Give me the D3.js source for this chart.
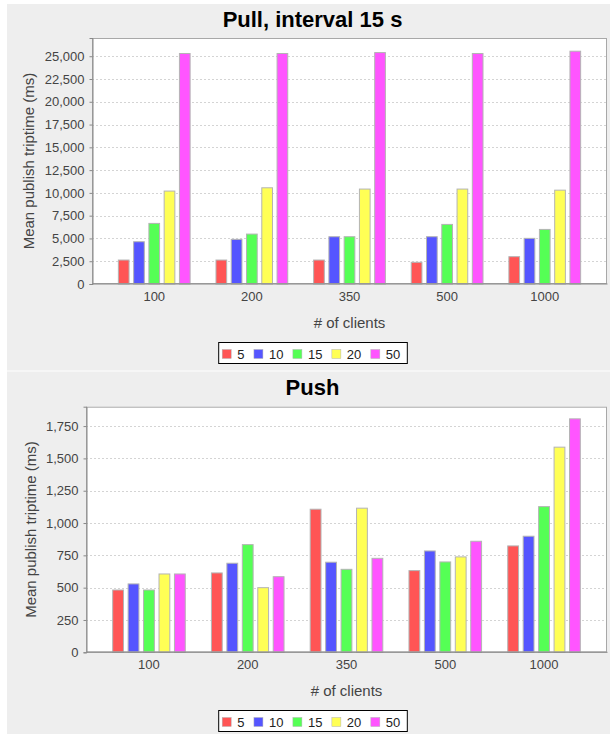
<!DOCTYPE html>
<html>
<head>
<meta charset="utf-8">
<script src="https://cdn.jsdelivr.net/npm/d3@7"></script>
<style>
  html, body { margin: 0; padding: 0; background: #ffffff; }
  svg { display: block; font-family: "Liberation Sans", Arial, sans-serif; }
</style>
</head>
<body>
<svg id="chart" width="610" height="734"></svg>
<script>
// ---------- data ----------
const categories = ["100", "200", "350", "500", "1000"];
const seriesNames = ["5", "10", "15", "20", "50"];
const seriesColors = ["#FF5555", "#5555FF", "#55FF55", "#FFFF55", "#FF55FF"];

// Pull, interval 15 s  (values per series, across categories)
const pull5  = [2630, 2630, 2630, 2380, 3000];
const pull10 = [4640, 4900, 5190, 5190, 5010];
const pull15 = [6650, 5480, 5190, 6540, 5990];
const pull20 = [10200, 10560, 10420, 10420, 10300];
const pull50 = [25300, 25300, 25400, 25300, 25550];
const pullTicks = [0, 2500, 5000, 7500, 10000, 12500, 15000, 17500, 20000, 22500, 25000];

// Push
const push5  = [482, 614, 1107, 632, 823];
const push10 = [529, 689, 697, 784, 898];
const push15 = [482, 833, 642, 699, 1127];
const push20 = [606, 500, 1115, 738, 1587];
const push50 = [606, 585, 727, 859, 1806];
const pushTicks = [0, 250, 500, 750, 1000, 1250, 1500, 1750];

const svg = d3.select("#chart");

function drawChart(cfg) {
  const g = svg.append("g").attr("transform", `translate(0,${cfg.offsetY})`);
  // panel background
  g.append("rect").attr("x", 7).attr("y", cfg.panelTop).attr("width", 603).attr("height", cfg.panelHeight)
    .attr("fill", "#EEEEEE");

  const p = cfg.plot;
  // title
  g.append("text").attr("x", 312.5).attr("y", 27.3).attr("text-anchor", "middle")
    .attr("font-size", "22px").attr("font-weight", "bold").attr("fill", "#000")
    .text(cfg.title);

  // plot background
  g.append("rect").attr("x", p.left).attr("y", p.top).attr("width", p.right - p.left).attr("height", p.bottom - p.top)
    .attr("fill", "#ffffff");

  const y = d3.scaleLinear().domain([0, cfg.yMax]).range([p.bottom, p.top]);
  const x0 = d3.scaleBand().domain(categories).range([p.left, p.right]).paddingInner(0.265).paddingOuter(0.27);
  const x1 = d3.scaleBand().domain(seriesNames).range([0, x0.bandwidth()]).paddingInner(0.3).paddingOuter(0);

  // gridlines
  g.append("g").selectAll("line").data(cfg.ticks.filter(t => t > 0)).join("line")
    .attr("x1", p.left).attr("x2", p.right)
    .attr("y1", d => Math.round(y(d)) + 0.5).attr("y2", d => Math.round(y(d)) + 0.5)
    .attr("stroke", "#D4D4D4").attr("stroke-width", 1).attr("stroke-dasharray", "2,2");

  // bars
  const rows = [];
  cfg.series.forEach((vals, si) => {
    vals.forEach((v, ci) => rows.push({ cat: categories[ci], s: seriesNames[si], si: si, v: v }));
  });
  g.append("g").selectAll("rect").data(rows).join("rect")
    .attr("x", d => x0(d.cat) + x1(d.s))
    .attr("y", d => y(d.v))
    .attr("width", x1.bandwidth())
    .attr("height", d => y(0) - y(d.v))
    .attr("fill", d => seriesColors[d.si])
    .attr("stroke", "#B4B4B4").attr("stroke-width", 1);

  // plot outline
  g.append("rect").attr("x", p.left + 0.5).attr("y", p.top + 0.5)
    .attr("width", p.right - p.left - 1).attr("height", p.bottom - p.top - 1)
    .attr("fill", "none").attr("stroke", "#A8A8A8").attr("stroke-width", 1);

  // y axis
  const yAxis = d3.axisLeft(y).tickValues(cfg.ticks).tickFormat(d3.format(",")).tickSize(3).tickPadding(5);
  const ya = g.append("g").attr("transform", `translate(${p.left + 0.5},0)`).call(yAxis);
  ya.select(".domain").attr("stroke", "#888");
  ya.selectAll(".tick line").attr("stroke", "#888");
  ya.selectAll(".tick text").attr("font-size", "13px").attr("fill", "#444")
    .attr("font-family", '"Liberation Sans", Arial, sans-serif');

  // x axis
  const xAxis = d3.axisBottom(x0).tickSize(0).tickPadding(0);
  const xa = g.append("g").attr("transform", `translate(0,${p.bottom - 0.5})`).call(xAxis);
  xa.select(".domain").attr("stroke", "#888");
  xa.selectAll(".tick text").attr("font-size", "13px").attr("fill", "#444")
    .attr("font-family", '"Liberation Sans", Arial, sans-serif')
    .attr("dy", null).attr("y", 17);

  // axis labels
  g.append("text").attr("transform", `translate(${cfg.yLabelX},${(p.top + p.bottom) / 2}) rotate(-90)`)
    .attr("text-anchor", "middle").attr("font-size", "15px").attr("fill", "#444")
    .text("Mean publish triptime (ms)");
  g.append("text").attr("x", (p.left + p.right) / 2).attr("y", 327.7).attr("text-anchor", "middle")
    .attr("font-size", "15px").attr("fill", "#444").text("# of clients");

  // legend
  const lg = g.append("g");
  const box = lg.append("rect").attr("y", 342.5).attr("height", 21).attr("fill", "#fff")
    .attr("stroke", "#000").attr("stroke-width", 1);
  let cx = 0;
  const items = [];
  seriesNames.forEach((name, i) => {
    const it = lg.append("g");
    it.append("rect").attr("x", cx).attr("y", 349.5).attr("width", 9).attr("height", 9)
      .attr("fill", seriesColors[i]).attr("stroke", "#B4B4B4").attr("stroke-width", 0.5);
    const t = it.append("text").attr("x", cx + 15).attr("y", 359).attr("font-size", "13px")
      .attr("fill", "#222").text(name);
    cx += 15 + t.node().getComputedTextLength() + 9.5;
    items.push(it);
  });
  const inner = cx - 9.5;
  const boxW = inner + 3.5 + 7;
  const boxX = 312.5 - boxW / 2;
  box.attr("x", boxX + 0.5).attr("width", boxW);
  items.forEach(it => it.attr("transform", `translate(${boxX + 4},0)`));
}

drawChart({
  offsetY: 0, panelTop: 4, panelHeight: 366.5,
  title: "Pull, interval 15 s",
  plot: { left: 92, right: 607, top: 38, bottom: 284 },
  yMax: 27000, ticks: pullTicks, yLabelX: 33.5,
  series: [pull5, pull10, pull15, pull20, pull50]
});

drawChart({
  offsetY: 368, panelTop: 3.5, panelHeight: 370,
  title: "Push",
  plot: { left: 86, right: 607, top: 38.7, bottom: 284.3 },
  yMax: 1900, ticks: pushTicks, yLabelX: 36,
  series: [push5, push10, push15, push20, push50]
});
</script>
</body>
</html>
